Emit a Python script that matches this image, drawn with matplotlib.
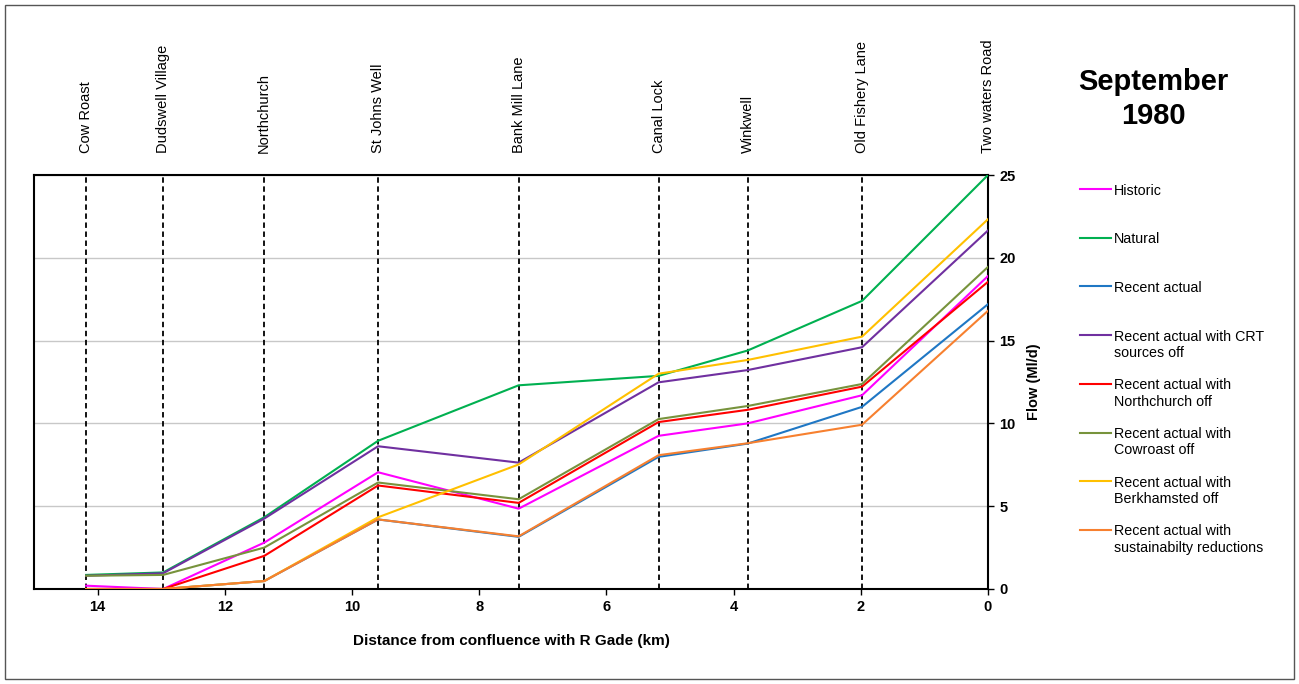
import numpy as np
import matplotlib.pyplot as plt
from matplotlib.lines import Line2D
from matplotlib.patches import Rectangle
import matplotlib.transforms as mtransforms

plt.rcParams['font.family'] = ['Liberation Sans', 'DejaVu Sans']

# gauging sites and distance upstream of the R Gade confluence (km)
sites = ['Cow Roast', 'Dudswell Village', 'Northchurch', 'St Johns Well', 'Bank Mill Lane',
         'Canal Lock', 'Winkwell', 'Old Fishery Lane', 'Two waters Road']
dist = [14.18, 12.97, 11.38, 9.59, 7.38, 5.18, 3.78, 1.98, 0.0]

# flows (Ml/d) at each site
historic = [0.2, 0.0, 2.8, 7.05, 4.85, 9.25, 10.0, 11.7, 18.9]
natural = [0.85, 1.0, 4.33, 8.95, 12.3, 12.87, 14.4, 17.4, 25.0]
recent = [0.0, 0.0, 0.48, 4.2, 3.15, 7.98, 8.78, 11.0, 17.2]
crt_off = [0.8, 0.95, 4.25, 8.62, 7.63, 12.48, 13.22, 14.6, 21.65]
northchurch_off = [0.0, 0.0, 2.0, 6.25, 5.2, 10.08, 10.82, 12.22, 18.55]
cowroast_off = [0.8, 0.85, 2.5, 6.43, 5.42, 10.26, 11.05, 12.38, 19.45]
berkhamsted_off = [0.0, 0.0, 0.48, 4.33, 7.52, 13.0, 13.83, 15.24, 22.33]
sustainability = [0.0, 0.0, 0.48, 4.2, 3.18, 8.08, 8.8, 9.92, 16.8]

series = [
    ('Historic', historic, '#FF00FF'),
    ('Natural', natural, '#00B050'),
    ('Recent actual', recent, '#1F77C4'),
    ('Recent actual with CRT\nsources off', crt_off, '#7030A0'),
    ('Recent actual with\nNorthchurch off', northchurch_off, '#FF0000'),
    ('Recent actual with\nCowroast off', cowroast_off, '#77933C'),
    ('Recent actual with\nBerkhamsted off', berkhamsted_off, '#FFC000'),
    ('Recent actual with\nsustainabilty reductions', sustainability, '#F7802F'),
]

W, H = 1299, 684
fig = plt.figure(figsize=(W / 100, H / 100), dpi=100)
ax = fig.add_axes([34 / W, 1 - 589 / H, (988 - 34) / W, (589 - 175) / H])

# site markers
for d in dist:
    ax.plot([d, d], [0, 25], color='black', lw=1.3, ls=(0, (3, 2)), zorder=1)

for label, vals, col in series:
    ax.plot(dist, vals, color=col, lw=1.5, zorder=3)

ax.set_xlim(15, 0)
ax.set_ylim(0, 25)
ax.set_xticks([14, 12, 10, 8, 6, 4, 2, 0])
ax.set_yticks([0, 5, 10, 15, 20, 25])
ax.yaxis.tick_right()
ax.yaxis.set_label_position('right')
ax.grid(axis='y', color='#C8C8C8', lw=1)
ax.set_axisbelow(True)
for s in ax.spines.values():
    s.set_linewidth(1.5)
    s.set_color('black')
ax.tick_params(axis='both', direction='out', length=4, width=1, labelsize=10.5, pad=4)
for t in ax.get_xticklabels() + ax.get_yticklabels():
    t.set_fontweight('bold')
ax.set_xlabel('Distance from confluence with R Gade (km)', fontsize=11,
              fontweight='bold', labelpad=14)
ax.set_ylabel('Flow (Ml/d)', fontsize=10.5, fontweight='bold', labelpad=8)

# site names above the plot
trans = mtransforms.blended_transform_factory(ax.transData, ax.transAxes)
for name, d in zip(sites, dist):
    ax.text(d, 1.053, name, rotation=90, ha='center', va='bottom', fontsize=10.5,
            transform=trans)

fig.text(1153 / W, 1 - 99 / H, 'September\n1980', ha='center', va='center',
         fontsize=21, fontweight='bold', linespacing=1.3)

# legend
for i, (label, vals, col) in enumerate(series):
    y = 1 - (189 + i * 48.7) / H
    fig.add_artist(Line2D([1080 / W, 1111 / W], [y, y], color=col, lw=1.5))
    fig.text(1114 / W, y, label, ha='left', va='top', fontsize=10.3,
             linespacing=1.2,
             transform=fig.transFigure + mtransforms.ScaledTranslation(0, 5.5 / 100, fig.dpi_scale_trans))

fig.add_artist(Rectangle((5 / W, 5 / H), 1289 / W, 674 / H, transform=fig.transFigure,
                         fill=False, edgecolor='#555555', lw=1))

fig.savefig('out.png', dpi=100)
